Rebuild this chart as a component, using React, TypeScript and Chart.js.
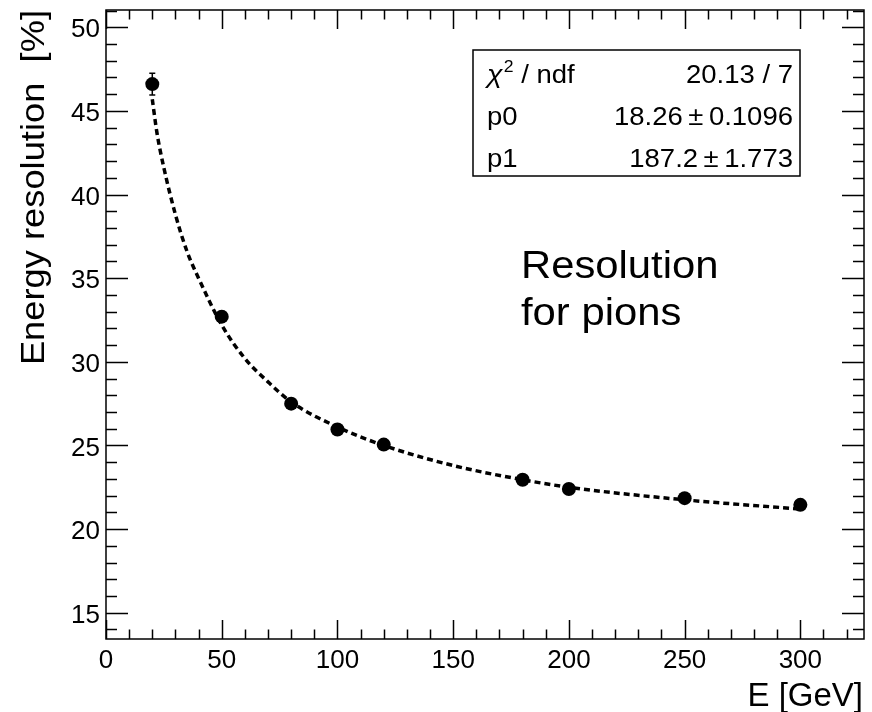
import React, { useEffect, useRef } from 'react';
import { Chart, registerables } from 'chart.js';

Chart.register(...registerables);

// ---- data ----
const energies = [20, 50, 80, 100, 120, 180, 200, 250, 300];
const resolution = [46.6, 32.7, 27.5, 25.95, 25.05, 22.95, 22.4, 21.85, 21.45];
const resolutionErr = [0.65, 0.3, 0.25, 0.2, 0.2, 0.15, 0.15, 0.15, 0.15];

// dashed fit curve
const fitEnergies = [20, 22, 25, 30, 35, 40, 50, 60, 70, 80, 100, 120, 150, 180, 200, 250, 300];
const fitValues = [45.7, 43.7, 41.6, 38.8, 36.6, 35.0, 32.2, 30.2, 28.8, 27.6, 26.1, 25.0, 23.8, 22.95, 22.5, 21.75, 21.2];

const xMajorTicks = [0, 50, 100, 150, 200, 250, 300];
const xMinorTicks = [10, 20, 30, 40, 60, 70, 80, 90, 110, 120, 130, 140, 160, 170, 180, 190, 210, 220, 230, 240, 260, 270, 280, 290, 310, 320];
const yMajorTicks = [15, 20, 25, 30, 35, 40, 45, 50];
const yMinorTicks = [14, 16, 17, 18, 19, 21, 22, 23, 24, 26, 27, 28, 29, 31, 32, 33, 34, 36, 37, 38, 39, 41, 42, 43, 44, 46, 47, 48, 49, 51];

const xTitle = 'E [GeV]';
const yTitle = 'Energy resolution  [%]';
const statsLabels = ['/ ndf', 'p0', 'p1'];
const statsValues = ['20.13 / 7', '18.26\u2009\u00B1\u20090.1096', '187.2\u2009\u00B1\u20091.773'];
const noteLines = ['Resolution', 'for pions'];

const FONT = '"Liberation Sans", Arial, Helvetica, sans-serif';

const rootStyle = {
  id: 'rootStyle',
  afterDraw(chart: any) {
    const ctx = chart.ctx as CanvasRenderingContext2D;
    const xs = chart.scales.x;
    const ys = chart.scales.y;
    const { left, right, top, bottom } = chart.chartArea;
    ctx.save();
    ctx.strokeStyle = '#000';
    ctx.fillStyle = '#000';

    // error bars
    ctx.lineWidth = 1.5;
    energies.forEach((e, i) => {
      const px = xs.getPixelForValue(e);
      const y1 = ys.getPixelForValue(resolution[i] + resolutionErr[i]);
      const y2 = ys.getPixelForValue(resolution[i] - resolutionErr[i]);
      ctx.beginPath();
      ctx.moveTo(px, y1);
      ctx.lineTo(px, y2);
      ctx.moveTo(px - 3, y1);
      ctx.lineTo(px + 3, y1);
      ctx.moveTo(px - 3, y2);
      ctx.lineTo(px + 3, y2);
      ctx.stroke();
    });

    // frame
    ctx.lineWidth = 1.5;
    ctx.strokeRect(left, top, right - left, bottom - top);

    // inside ticks on all four sides
    ctx.beginPath();
    const xt = (vals: number[], len: number) => {
      vals.forEach((v) => {
        const px = Math.round(xs.getPixelForValue(v)) + 0.5;
        ctx.moveTo(px, bottom);
        ctx.lineTo(px, bottom - len);
        ctx.moveTo(px, top);
        ctx.lineTo(px, top + len);
      });
    };
    const yt = (vals: number[], len: number) => {
      vals.forEach((v) => {
        const py = Math.round(ys.getPixelForValue(v)) + 0.5;
        ctx.moveTo(left, py);
        ctx.lineTo(left + len, py);
        ctx.moveTo(right, py);
        ctx.lineTo(right - len, py);
      });
    };
    xt(xMajorTicks, 19);
    xt(xMinorTicks, 9.5);
    yt(yMajorTicks, 22);
    yt(yMinorTicks, 11);
    ctx.stroke();

    // axis titles
    ctx.textBaseline = 'alphabetic';
    ctx.font = `33px ${FONT}`;
    ctx.textAlign = 'right';
    ctx.fillText(xTitle, 863, 706);

    ctx.save();
    ctx.translate(43.5, 10);
    ctx.rotate(-Math.PI / 2);
    ctx.scale(1.1, 1);
    ctx.font = `33px ${FONT}`;
    ctx.textAlign = 'right';
    ctx.fillText(yTitle, 0, 0);
    ctx.restore();

    // stats box
    const bx0 = 473, by0 = 50, bx1 = 800, by1 = 176;
    ctx.lineWidth = 1.5;
    ctx.strokeRect(bx0, by0, bx1 - bx0, by1 - by0);
    const rowH = (by1 - by0) / 3;
    const sx = 1.1;
    statsValues.forEach((val, i) => {
      const base = by0 + rowH * (i + 1) - 9;
      ctx.save();
      ctx.translate(487, base);
      ctx.scale(sx, 1);
      ctx.textAlign = 'left';
      if (i === 0) {
        ctx.font = `italic 26px ${FONT}`;
        ctx.fillText('\u03C7', 0, 0);
        const w = ctx.measureText('\u03C7').width;
        ctx.font = `16px ${FONT}`;
        ctx.fillText('2', w + 1, -11);
        const w2 = ctx.measureText('2').width;
        ctx.font = `25px ${FONT}`;
        ctx.fillText(' ' + statsLabels[0], w + 1 + w2, 0);
      } else {
        ctx.font = `25px ${FONT}`;
        ctx.fillText(statsLabels[i], 0, 0);
      }
      ctx.restore();
      ctx.save();
      ctx.translate(793, base);
      ctx.scale(sx, 1);
      ctx.font = `25px ${FONT}`;
      ctx.textAlign = 'right';
      ctx.fillText(val, 0, 0);
      ctx.restore();
    });

    // annotation
    const noteBase = [278, 325];
    noteLines.forEach((t, i) => {
      ctx.save();
      ctx.translate(521, noteBase[i]);
      ctx.scale(1.1, 1);
      ctx.font = `38px ${FONT}`;
      ctx.textAlign = 'left';
      ctx.fillText(t, 0, 0);
      ctx.restore();
    });

    ctx.restore();
  },
};

export default function App() {
  const canvasRef = useRef<HTMLCanvasElement | null>(null);

  useEffect(() => {
    const canvas = canvasRef.current;
    if (!canvas) return;
    const chart = new Chart(canvas, {
      type: 'scatter',
      data: {
        datasets: [
          {
            label: 'points',
            data: energies.map((e, i) => ({ x: e, y: resolution[i] })),
            showLine: false,
            pointRadius: 7,
            pointHoverRadius: 7,
            pointStyle: 'circle',
            backgroundColor: '#000',
            borderColor: '#000',
            borderWidth: 0,
            order: 0,
          },
          {
            label: 'fit',
            data: fitEnergies.map((e, i) => ({ x: e, y: fitValues[i] })),
            showLine: true,
            pointRadius: 0,
            pointHoverRadius: 0,
            borderColor: '#000',
            borderWidth: 3.5,
            borderDash: [6, 4],
            cubicInterpolationMode: 'monotone',
            fill: false,
            order: 1,
          },
        ],
      },
      options: {
        animation: false,
        responsive: false,
        devicePixelRatio: 1,
        events: [],
        layout: { padding: { top: 10, right: 8, left: 0, bottom: 0 } },
        plugins: {
          legend: { display: false },
          tooltip: { enabled: false },
          title: { display: false },
        },
        scales: {
          x: {
            type: 'linear',
            min: 0,
            max: 327.5,
            grid: { display: false, drawTicks: false },
            border: { display: false },
            afterBuildTicks: (scale: any) => {
              scale.ticks = xMajorTicks.map((v) => ({ value: v }));
            },
            afterFit: (scale: any) => {
              scale.height = 73;
              scale.paddingLeft = 0;
              scale.paddingRight = 0;
            },
            ticks: {
              color: '#000',
              font: { family: FONT, size: 26 },
              padding: 6,
              maxRotation: 0,
              autoSkip: false,
              callback: (v: any) => String(v),
            },
          },
          y: {
            type: 'linear',
            min: 13.43,
            max: 51.03,
            grid: { display: false, drawTicks: false },
            border: { display: false },
            afterBuildTicks: (scale: any) => {
              scale.ticks = yMajorTicks.map((v) => ({ value: v }));
            },
            afterFit: (scale: any) => {
              scale.width = 106;
              scale.paddingTop = 0;
              scale.paddingBottom = 0;
            },
            ticks: {
              color: '#000',
              font: { family: FONT, size: 26 },
              padding: 6,
              labelOffset: 3,
              autoSkip: false,
              callback: (v: any) => String(v),
            },
          },
        },
      },
      plugins: [rootStyle],
    });
    return () => chart.destroy();
  }, []);

  return (
    <div style={{ position: 'fixed', left: 0, top: 0, width: 872, height: 712, background: '#fff' }}>
      <canvas ref={canvasRef} width={872} height={712} style={{ display: 'block', width: 872, height: 712 }} />
    </div>
  );
}
